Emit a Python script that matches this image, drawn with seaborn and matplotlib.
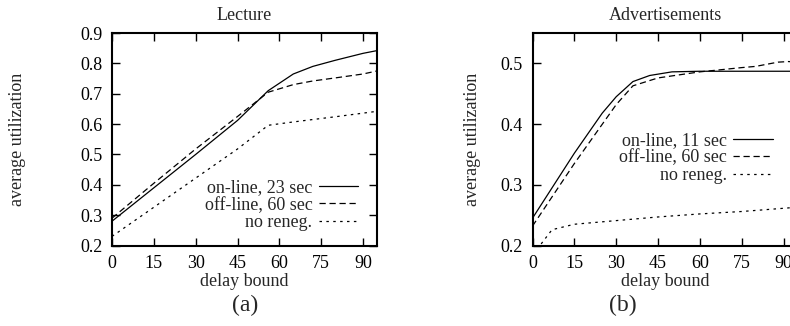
import matplotlib
matplotlib.use("Agg")
import matplotlib.pyplot as plt
import seaborn as sns

# Lecture panel
lec_x = [0, 15, 30, 45, 56, 65, 72, 80, 90, 95]
lec_online = [0.28, 0.39, 0.50, 0.612, 0.71, 0.765, 0.79, 0.81, 0.833, 0.842]
lec_offline = [0.29, 0.405, 0.518, 0.625, 0.705, 0.73, 0.742, 0.752, 0.765, 0.775]
lec_noreneg = [0.23, 0.326, 0.422, 0.518, 0.596, 0.607, 0.615, 0.624, 0.636, 0.642]

# Advertisements panel
adv_on_x = [0, 15, 25, 30, 36, 42, 50, 60, 95]
adv_online = [0.245, 0.352, 0.418, 0.445, 0.47, 0.48, 0.486, 0.487, 0.487]
adv_off_x = [0, 15, 30, 36, 45, 60, 75, 80, 88, 92, 95]
adv_offline = [0.232, 0.335, 0.432, 0.463, 0.476, 0.486, 0.493, 0.495, 0.502, 0.503, 0.50]
adv_no_x = [0, 3, 7, 15, 30, 45, 60, 75, 92, 95]
adv_noreneg = [0.185, 0.202, 0.226, 0.235, 0.241, 0.247, 0.252, 0.256, 0.262, 0.263]

x_ticks = [0, 15, 30, 45, 60, 75, 90]
lec_yticks = [0.2, 0.3, 0.4, 0.5, 0.6, 0.7, 0.8, 0.9]
adv_yticks = [0.2, 0.3, 0.4, 0.5]

sns.set_theme(style="ticks")
plt.rcParams["font.family"] = ["Liberation Serif", "DejaVu Serif"]
plt.rcParams["axes.linewidth"] = 1.5

FS = 13
SOLID = "-"
DASHED = (0, (5, 3))
DOTTED = (0, (2, 3.5))

fig = plt.figure(figsize=(7.9, 3.26), dpi=100)
ax1 = fig.add_axes([112 / 790, 80.5 / 326, 265 / 790, 212.5 / 326])
ax2 = fig.add_axes([532.5 / 790, 80.5 / 326, 265 / 790, 212.5 / 326])


def draw(ax, series, title, yticks, ylim, ylab_x, leg_anchor):
    for xs, ys, ls, lab in series:
        sns.lineplot(x=xs, y=ys, ax=ax, color="black", lw=0.9, linestyle=ls, label=lab)
    ax.set_xlim(0, 95)
    ax.set_ylim(*ylim)
    ax.set_xticks(x_ticks)
    ax.set_yticks(yticks)
    ax.set_yticklabels([f"{v:.1f}" for v in yticks])
    ax.tick_params(direction="in", top=True, right=True, length=6, width=1,
                   labelsize=FS, pad=7, colors="black")
    for s in ax.spines.values():
        s.set_color("black")
    ax.set_title(title, fontsize=FS, pad=9)
    ax.set_xlabel("delay bound", fontsize=FS)
    ax.set_ylabel("average utilization", fontsize=FS)
    ax.xaxis.set_label_coords(0.5, -0.13)
    ax.yaxis.set_label_coords(ylab_x, 0.5)
    ax.legend(loc="lower right", bbox_to_anchor=leg_anchor, frameon=False,
              markerfirst=False, fontsize=FS, handlelength=2.2,
              handletextpad=0.35, labelspacing=0.02, borderpad=0, borderaxespad=0)


draw(ax1,
     [(lec_x, lec_online, SOLID, "on-line, 23 sec"),
      (lec_x, lec_offline, DASHED, "off-line, 60 sec"),
      (lec_x, lec_noreneg, DOTTED, "no reneg.")],
     "Lecture", lec_yticks, (0.2, 0.9), -0.325, (0.93, 0.068))

draw(ax2,
     [(adv_on_x, adv_online, SOLID, "on-line, 11 sec"),
      (adv_off_x, adv_offline, DASHED, "off-line, 60 sec"),
      (adv_no_x, adv_noreneg, DOTTED, "no reneg.")],
     "Advertisements", adv_yticks, (0.2, 0.55), -0.195, (0.907, 0.29))

fig.text(245 / 790, 1 - 305 / 326, "(a)", fontsize=17, ha="center", va="center")
fig.text(623 / 790, 1 - 305 / 326, "(b)", fontsize=17, ha="center", va="center")

fig.savefig("out.png", dpi=100)
